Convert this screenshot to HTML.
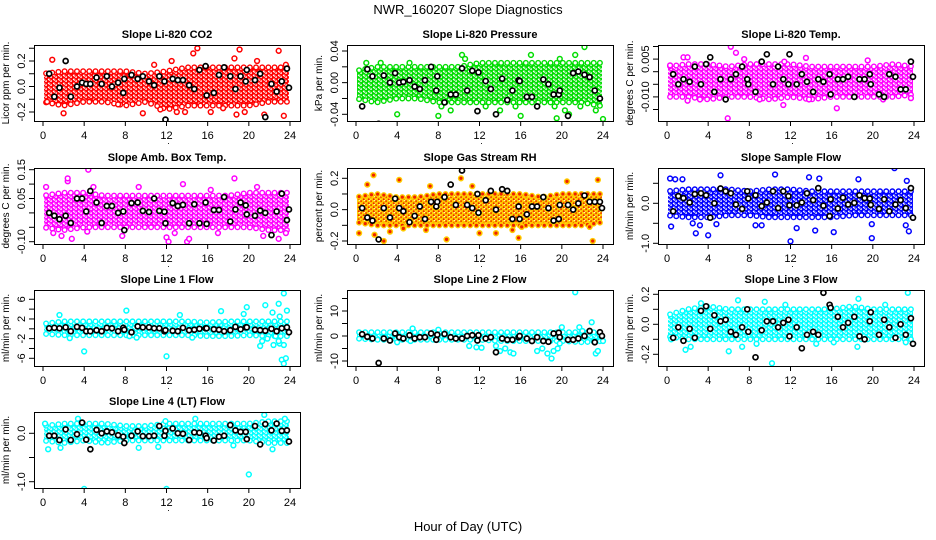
<!DOCTYPE html>
<html><head><meta charset="utf-8">
<style>
html,body{margin:0;padding:0;background:#fff;}
svg{display:block;font-family:"Liberation Sans",Arial,sans-serif;}
</style></head>
<body>
<svg id="chart" width="936" height="540" viewBox="0 0 936 540">
<defs id="defs"></defs>
<text x="468" y="14" text-anchor="middle" font-size="13">NWR_160207  Slope Diagnostics</text>
<text x="468" y="531" text-anchor="middle" font-size="13">Hour of Day (UTC)</text>
</svg>
<script>
// shared hours for black (averaged) points
const blackHours = [0.6,1.1,1.6,2.2,2.7,3.3,3.8,4.2,4.6,5.2,5.7,6.2,6.7,7.3,7.8,7.9,8.6,9.2,9.7,10.3,10.8,11.3,11.8,11.9,12.6,13.1,13.6,14.2,14.7,15.2,15.8,15.9,16.6,17.1,17.6,18.2,18.7,19.2,19.7,19.8,20.6,21.1,21.6,22.2,22.7,23.2,23.7,23.9];
const bandHours = [0,2,4,6,8,10,12,14,16,18,20,22,24];
const xTicks = [0,4,8,12,16,20,24];

// Panel 1 CO2
const co2Lo = [-0.12,-0.15,-0.12,-0.12,-0.15,-0.12,-0.18,-0.15,-0.15,-0.15,-0.15,-0.12,-0.12];
const co2Hi = [0.1,0.12,0.12,0.12,0.12,0.1,0.12,0.15,0.15,0.15,0.15,0.15,0.15];
const co2Out = [[0.9,0.21],[2,-0.21],[9.7,-0.21],[10.8,0.17],[11.4,-0.18],[12.5,0.2],[13,-0.2],[13.8,-0.2],[14.6,0.26],[15,0.3],[16.3,-0.2],[17.5,-0.17],[18.6,0.22],[18.8,-0.22],[19.1,0.29],[19.6,-0.2],[20.8,0.2],[21.5,-0.22],[22.9,0.28],[23.4,-0.23],[23.6,0.17],[7.3,-0.14],[0.4,-0.12]];
const co2Blk = [0.1,-0.08,-0.01,0.2,-0.08,0,0.03,0.02,0.02,0.07,0.02,0.08,0,0.03,-0.05,0.06,0.09,0.06,0.08,0.04,0.01,0.08,0.04,-0.26,0.06,0.05,0.05,0.01,-0.02,0.13,0.16,-0.07,-0.05,0.09,0.15,0.08,-0.02,0.08,0.04,0.13,0.05,0.1,-0.24,0.02,-0.04,0.04,0.14,-0.01];
// Panel 2 Pressure
const prsLo = [-0.02,-0.025,-0.02,-0.02,-0.025,-0.025,-0.025,-0.025,-0.025,-0.025,-0.025,-0.025,-0.03];
const prsHi = [0.015,0.02,0.02,0.02,0.02,0.02,0.025,0.025,0.025,0.025,0.025,0.025,0.025];
const prsOut = [[1,0.025],[2.4,0.025],[4,-0.04],[5.2,0.025],[8,-0.042],[8.3,-0.03],[9.2,-0.035],[10.3,0.035],[10.6,0.03],[12.6,-0.03],[14,-0.035],[15.5,-0.03],[16,-0.042],[17,0.035],[19.3,-0.03],[19.5,-0.045],[19.8,0.03],[20.3,-0.035],[20.7,-0.04],[21.3,0.035],[22.2,0.045],[23.3,-0.035],[24,-0.046],[21.8,-0.03]];
const prsBlk = [-0.03,0.017,0.008,-0.052,0.009,0,0.012,0,0.001,0.003,-0.005,-0.008,0.003,0.02,-0.01,0.008,-0.025,-0.015,-0.015,0.018,-0.01,0.015,-0.036,0.013,0.002,-0.008,-0.04,0.005,-0.022,-0.01,0.003,0.002,-0.018,-0.018,-0.03,0.004,-0.002,-0.015,-0.015,-0.01,-0.042,0.012,0.014,0.01,0.007,-0.01,-0.02,-0.055];
// Panel 3 Li-820 Temp
const tmpLo = [-0.010,-0.010,-0.011,-0.010,-0.010,-0.011,-0.010,-0.011,-0.010,-0.010,-0.010,-0.010,-0.009];
const tmpHi = [0.002,0.003,0.003,0.002,0.003,0.003,0.003,0.002,0.002,0.002,0.002,0.003,0.002];
const tmpOut = [[1.6,0.0057],[2,0.0057],[6.2,0.0099],[6.7,0.0075],[5.9,-0.0185],[11.3,-0.0132],[11.4,0.004],[13.8,-0.011],[16.5,-0.0145],[19.5,0.0045],[21,-0.011],[23.7,-0.0105],[3.2,-0.011],[2,-0.0115],[0.3,0.0025],[13.5,0.0055],[7.5,0.005],[9,-0.011]];
const tmpBlk = [-0.001,-0.005,-0.003,-0.004,0.002,-0.005,0.003,0.0057,-0.008,-0.003,-0.011,-0.003,-0.001,0.002,-0.003,-0.005,-0.008,0.004,0.0069,-0.005,0.002,-0.003,-0.005,0.0069,-0.005,-0.001,-0.004,-0.008,-0.003,-0.004,-0.001,-0.009,-0.003,-0.003,-0.002,-0.01,-0.003,-0.003,-0.001,-0.005,-0.009,-0.01,-0.001,-0.002,-0.007,-0.007,0.004,-0.002];
// Panel 4 Amb Box Temp
const ambLo = [-0.05,-0.06,-0.05,-0.05,-0.05,-0.05,-0.05,-0.05,-0.05,-0.05,-0.05,-0.06,-0.06];
const ambHi = [0.06,0.07,0.07,0.06,0.06,0.06,0.06,0.06,0.06,0.06,0.07,0.07,0.07];
const ambOut = [[0.3,0.09],[2.4,0.11],[2.4,0.12],[4.4,0.15],[4.9,0.09],[9.3,0.09],[13.6,0.1],[18.6,0.12],[20.8,0.09],[16.3,0.08],[1,-0.07],[1.8,-0.08],[2.8,-0.09],[7.7,-0.08],[12,-0.085],[12.2,-0.1],[14,-0.1],[14.2,-0.09],[12.8,-0.07],[17,-0.07],[21.4,-0.08],[22.9,-0.09],[23.6,-0.07],[4.3,-0.065]];
const ambBlk = [0,-0.01,-0.022,-0.01,-0.035,0.05,0.05,0.005,0.076,0.036,-0.035,0.024,0.024,0,0.005,-0.06,0.034,0.036,0.007,0.003,0.05,0.007,0.004,-0.036,0.034,0.024,0.028,-0.036,0.03,-0.036,0.036,-0.038,0.01,0.01,0.055,-0.03,0.012,0.036,0.026,-0.005,-0.01,0.008,0,-0.077,0.005,0.067,-0.025,0.012];
// Panel 5 Gas Stream RH
const rhLo = [-0.08,-0.1,-0.1,-0.1,-0.1,-0.1,-0.1,-0.1,-0.1,-0.1,-0.1,-0.1,-0.08];
const rhHi = [0.08,0.1,0.08,0.08,0.1,0.1,0.1,0.1,0.1,0.08,0.1,0.1,0.1];
const rhOut = [[0.3,-0.15],[1.7,0.22],[1.8,-0.16],[2.7,-0.2],[4.2,0.19],[3.3,-0.14],[4.6,-0.12],[6.8,-0.13],[8.8,-0.19],[10.2,0.2],[12,-0.15],[13.6,-0.15],[15.8,-0.18],[16.1,-0.11],[20.5,0.18],[22.7,-0.11],[23,-0.2],[23.5,0.19],[1.1,0.16],[7.2,0.15],[11.3,0.15],[15.2,-0.13]];
const rhBlk = [0.01,-0.05,-0.07,-0.19,0.01,-0.05,0.07,0.01,-0.01,-0.08,-0.04,0.02,-0.06,0.05,0.02,0.05,0.08,0.16,0.03,0.25,0.03,0.01,0.1,-0.02,0.06,0.12,0,0.13,0.12,-0.06,0.02,-0.06,-0.03,0.02,0.02,0.08,0.01,-0.07,-0.06,0.03,0.03,0,0.04,0.09,0.05,0.05,0.05,0.01];
// Panel 6 Sample Flow
const smpLo = [-0.3,-0.35,-0.35,-0.3,-0.3,-0.35,-0.35,-0.35,-0.35,-0.3,-0.3,-0.3,-0.3];
const smpHi = [0.3,0.35,0.35,0.35,0.3,0.35,0.35,0.3,0.3,0.3,0.3,0.3,0.3];
const smpOut = [[0.3,0.62],[0.4,-0.58],[1.5,0.6],[2.5,-0.5],[2.8,-0.75],[3.2,-0.55],[4,-0.8],[5.2,0.7],[4.8,-0.52],[8.6,-0.55],[9.2,-0.55],[10.5,0.72],[12,-0.95],[12.6,-0.62],[13.8,0.65],[14.4,-0.68],[14.8,0.62],[16.2,-0.72],[18.6,0.6],[19.9,-0.87],[19.9,-0.52],[22.1,0.88],[23.3,0.56],[23.5,-0.7],[23.2,-0.55],[0.8,0.6]];
const smpBlk = [-0.2,0.18,0.13,0.02,0.23,0.25,0.2,-0.36,0,0.37,0.3,0.25,-0.03,-0.14,0.3,0.12,0.2,-0.07,0.02,0.3,-0.12,0.3,0.18,-0.05,-0.05,0.02,0.25,0.08,0.38,-0.06,-0.32,0.1,-0.13,0.14,-0.03,0.01,0.2,0.13,0.12,-0.04,-0.14,0.1,-0.2,-0.03,0.08,-0.12,0.38,-0.36];
// Panel 7 Line 1 Flow
const l1Lo = [-1,-1.3,-1.3,-1.3,-1.3,-1.3,-1.3,-1.3,-1.5,-1.5,-1.3,-1.5,-1.5];
const l1Hi = [1,1.5,1.5,1.5,1.5,1.5,1.5,1.5,1.3,1.5,1.5,1.5,1.5];
const l1Out = [[1.6,2.8],[4,-4.6],[8.1,3.7],[2.6,-1.9],[12,-5.6],[13.3,2.8],[17.3,3.6],[19.8,4.4],[19.5,3],[21.1,-3.5],[21.6,4.8],[21.8,-2],[22.4,-3.3],[22.3,3.3],[22.9,5.1],[23,-3],[23.2,-6.3],[23.4,-7.1],[23.4,7.2],[23.6,-6],[23.7,3.7],[21.3,-2.5],[22.6,-1.5],[23,2.5],[23.4,-3.3],[22.9,-2.5],[14.5,-1.8],[9.1,-1.8],[8.4,-1.5]];
const l1Blk = [0.1,0.2,0.1,0.3,-0.5,0.4,0.2,-0.5,-0.5,-0.3,-0.5,0.2,0.1,-0.5,0.2,-0.2,-0.7,0.5,0.3,0.3,0.1,0.1,-0.5,-0.3,-0.4,-0.5,0.2,-0.3,-0.2,0,0.1,0.1,-0.1,-0.2,-0.5,-0.3,0.4,-0.1,0.3,0.3,-0.2,-0.3,-0.4,0,-0.5,0.1,0.3,-0.7];
// Panel 8 Line 2 Flow
const l2Lo = [-1,-1.5,-1.5,-1.5,-1.5,-1.5,-1.5,-2,-2,-2,-2,-2.5,-2];
const l2Hi = [1.5,1.5,1.5,1.5,1.5,1.5,1.5,1.5,1.5,1.5,1.5,1.5,1.5];
const l2Out = [[5.5,3],[5.3,-2],[11,-4],[11.7,-4.5],[12.2,-4.7],[13.6,-4],[14,-6],[14.5,-5],[15,-6.5],[15.3,-7],[17.6,-6],[18.1,-5],[18.6,-7],[19,-9],[19.2,-6],[19.6,-5],[19.8,-3],[20,3.5],[21.3,17.5],[21.7,3.5],[22.9,5.5],[23.3,-7],[23.5,-6],[24,-2],[8,2.5],[4,-2.5],[22,2]];
const l2Blk = [0.7,-0.3,-1,-10.8,-1,-1.8,1,-0.5,-1,0.3,-1,-0.5,-0.5,1,-1.5,0.5,0.8,-0.5,-1,-1,0,0.3,-1.8,0.3,-1,-0.5,-6.5,-1,-1.5,-1.5,-0.5,0,-1,-2,-0.5,-2,-2.3,1,1.3,-0.5,-1.5,-1.5,-1,0,2,-2.5,1.5,0];
// Panel 9 Line 3 Flow
const l3Lo = [-0.08,-0.1,-0.1,-0.1,-0.1,-0.1,-0.1,-0.1,-0.1,-0.1,-0.1,-0.1,-0.1];
const l3Hi = [0.06,0.1,0.12,0.1,0.1,0.1,0.1,0.1,0.1,0.12,0.1,0.1,0.1];
const l3Out = [[1.8,-0.17],[2.3,-0.15],[3.3,0.14],[6,-0.18],[6.9,0.16],[7.3,-0.15],[8.7,-0.13],[10.2,-0.26],[11.5,0.13],[14.5,-0.13],[16.2,-0.12],[18.5,-0.15],[18.6,0.17],[21.2,0.13],[23.4,0.21],[23.2,-0.12],[0.4,-0.1],[9.5,0.15]];
const l3Blk = [-0.09,-0.02,-0.11,-0.03,-0.09,0.09,0.12,-0.03,0.06,0.02,0.03,-0.05,-0.07,-0.02,0.1,-0.05,-0.22,-0.04,0.02,0.02,-0.02,0.01,0.03,-0.08,-0.02,-0.16,-0.07,-0.05,-0.07,0.21,0.13,0.11,0.05,-0.02,0.01,0.05,-0.08,-0.1,0.02,0.08,-0.07,0.03,-0.02,-0.09,0,-0.07,0.04,-0.13];
// Panel 10 Line 4 Flow
const l4Lo = [-0.15,-0.2,-0.15,-0.2,-0.15,-0.15,-0.15,-0.15,-0.15,-0.15,-0.15,-0.2,-0.2];
const l4Hi = [0.15,0.2,0.2,0.2,0.15,0.15,0.2,0.2,0.2,0.2,0.2,0.25,0.25];
const l4Out = [[0.5,-0.33],[1.7,-0.3],[4,-1.15],[3.4,0.3],[9.3,-0.3],[11.2,-0.28],[12,-1.15],[14.8,0.3],[20,-0.85],[21.5,0.38],[22.3,-0.33],[23.5,0.3],[18.5,-0.25],[0.2,0.2],[11.9,0.25]];
const l4Blk = [-0.05,-0.05,-0.14,0.08,-0.14,-0.02,0.22,-0.13,-0.33,0.07,0,0.04,0.02,-0.04,-0.07,-0.2,-0.05,0.04,-0.06,-0.06,-0.05,0.15,-0.05,0.05,0.1,0,-0.01,-0.14,0.02,0.01,-0.05,-0.1,-0.15,-0.07,-0.05,0.17,0.06,0.03,0.03,-0.12,0.15,-0.23,0.19,0.06,0.2,0.05,0.06,-0.17];

const NS = "http://www.w3.org/2000/svg";
const svg = document.getElementById('chart');
const defs = document.getElementById('defs');
function mk(tag, attrs, parent){
  const e = document.createElementNS(NS, tag);
  for (const k in attrs) e.setAttribute(k, attrs[k]);
  (parent||svg).appendChild(e);
  return e;
}
const colX = [34, 347, 658];
const rowY = [45, 168, 290, 412];
const W = 266, H = 76;

const panels = [
 {name:'li820-co2', title:'Slope Li-820 CO2', ylab:'Licor ppm per min.', col:0,row:0, v1:0.2,p1:61, v2:-0.2,p2:112, ticks:[-0.2,-0.1,0,0.1,0.2,0.3], labels:[[-0.2,'-0.2'],[0,'0.0'],[0.2,'0.2']], color:'#ff0000', lo:co2Lo, hi:co2Hi, out:co2Out, blk:co2Blk},
 {name:'li820-pressure', title:'Slope Li-820 Pressure', ylab:'kPa per min.', col:1,row:0, v1:0.04,p1:51, v2:-0.04,p2:114.3, ticks:[-0.04,-0.02,0,0.02,0.04], labels:[[-0.04,'-0.04'],[0,'0.00'],[0.04,'0.04']], color:'#00dd00', lo:prsLo, hi:prsHi, out:prsOut, blk:prsBlk},
 {name:'li820-temp', title:'Slope Li-820 Temp.', ylab:'degrees C per min.', col:2,row:0, v1:0,p1:71.7, v2:-0.01,p2:96.9, ticks:[0.01,0.005,0,-0.005,-0.01,-0.015], labels:[[0.005,'0.005'],[-0.01,'-0.010']], color:'#ff00ff', lo:tmpLo, hi:tmpHi, out:tmpOut, blk:tmpBlk},
 {name:'amb-box-temp', title:'Slope Amb. Box Temp.', ylab:'degrees C per min.', col:0,row:1, v1:0.15,p1:169.7, v2:-0.1,p2:241.7, ticks:[0.15,0.1,0.05,0,-0.05,-0.1], labels:[[-0.1,'-0.10'],[0.05,'0.05'],[0.15,'0.15']], color:'#ff00ff', lo:ambLo, hi:ambHi, out:ambOut, blk:ambBlk},
 {name:'gas-stream-rh', title:'Slope Gas Stream RH', ylab:'percent per min.', col:1,row:1, v1:0.2,p1:178.3, v2:-0.2,p2:241, ticks:[-0.2,-0.1,0,0.1,0.2], labels:[[-0.2,'-0.2'],[0,'0.0'],[0.2,'0.2']], color:'#ffcc00', dot:'#ee2200', lo:rhLo, hi:rhHi, out:rhOut, blk:rhBlk},
 {name:'sample-flow', title:'Slope Sample Flow', ylab:'ml/min per min.', col:2,row:1, v1:0,p1:203.3, v2:-1,p2:243.3, ticks:[0.5,0,-0.5,-1], labels:[[-1,'-1.0'],[0,'0.0']], color:'#0000ff', lo:smpLo, hi:smpHi, out:smpOut, blk:smpBlk},
 {name:'line1-flow', title:'Slope Line 1 Flow', ylab:'ml/min per min.', col:0,row:2, v1:6,p1:299.3, v2:-6,p2:358.3, ticks:[6,4,2,0,-2,-4,-6,-8], labels:[[-6,'-6'],[-2,'-2'],[2,'2'],[6,'6']], color:'#00ffff', lo:l1Lo, hi:l1Hi, out:l1Out, blk:l1Blk},
 {name:'line2-flow', title:'Slope Line 2 Flow', ylab:'ml/min per min.', col:1,row:2, v1:10,p1:311, v2:-10,p2:361, ticks:[15,10,5,0,-5,-10], labels:[[-10,'-10'],[0,'0'],[10,'10']], color:'#00ffff', lo:l2Lo, hi:l2Hi, out:l2Out, blk:l2Blk},
 {name:'line3-flow', title:'Slope Line 3 Flow', ylab:'ml/min per min.', col:2,row:2, v1:0.2,p1:294.3, v2:-0.2,p2:354.3, ticks:[0.2,0.1,0,-0.1,-0.2,-0.3], labels:[[-0.2,'-0.2'],[0,'0.0'],[0.2,'0.2']], color:'#00ffff', lo:l3Lo, hi:l3Hi, out:l3Out, blk:l3Blk},
 {name:'line4-flow', title:'Slope Line 4 (LT) Flow', ylab:'ml/min per min.', col:0,row:3, v1:0,p1:433.3, v2:-1,p2:481.7, ticks:[0,-0.5,-1], labels:[[-1,'-1.0'],[0,'0.0']], color:'#00ffff', lo:l4Lo, hi:l4Hi, out:l4Out, blk:l4Blk}
];

function interp(arr, h){
  const i = Math.min(bandHours.length-2, Math.max(0, Math.floor(h/2)));
  const t = (h - bandHours[i])/2;
  return arr[i] + (arr[i+1]-arr[i])*t;
}

panels.forEach(p => {
  const L = colX[p.col], T = rowY[p.row], R = L+W, B = T+H;
  const xs = h => L + 9 + h*(W-19)/24;
  const ys = v => p.p1 + (v - p.v1)*(p.p2-p.p1)/(p.v2-p.v1);
  const ringFill = p.dot || 'none';

  const patId = 'pat-' + p.name;
  const pat = mk('pattern', {id:patId, patternUnits:'userSpaceOnUse', width:5, height:4}, defs);
  mk('rect', {x:0, y:0, width:5, height:4, fill:'#fff'}, pat);
  mk('circle', {cx:1.2, cy:1.2, r:1.8, fill:ringFill, stroke:p.color, 'stroke-width':1.7}, pat);
  mk('circle', {cx:3.7, cy:3.2, r:1.8, fill:ringFill, stroke:p.color, 'stroke-width':1.7}, pat);

  const g = mk('g', {});
  
  
  const clipId = 'clip-' + p.name;
  const cp = mk('clipPath', {id: clipId}, g);
  mk('rect', {x:L, y:T, width:W, height:H}, cp);

  const title = mk('text', {x:L+W/2, y:T-7, 'text-anchor':'middle', 'font-size':11, 'font-weight':'bold'}, g);
  title.textContent = p.title;
  
  

  const yl = mk('text', {transform:`translate(${L-25},${T+H/2}) rotate(-90)`, 'text-anchor':'middle', 'font-size':10}, g);
  yl.textContent = p.ylab;
  
  

  const plot = mk('g', {'clip-path':`url(#${clipId})`}, g);
  
  

  let pts = [];
  bandHours.forEach((h,i)=>pts.push(xs(Math.min(23.9,Math.max(0.1,h)))+','+ys(p.hi[i])));
  for (let i=bandHours.length-1;i>=0;i--) pts.push(xs(Math.min(23.9,Math.max(0.1,bandHours[i])))+','+ys(p.lo[i]));
  const band = mk('polygon', {points: pts.join(' '), fill:`url(#${patId})`}, plot);
  
  

  for (let k=0; k<=39; k++){
    const h = 0.3 + k*0.6;
    [interp(p.hi,h), interp(p.lo,h)].forEach(v=>{
      const c = mk('circle', {cx:xs(h), cy:ys(v), r:2.3, fill:ringFill==='none'?'#fff':ringFill, stroke:p.color, 'stroke-width':1.4}, plot);
      
      
    });
  }
  p.out.forEach(o=>{
    const c = mk('circle', {cx:xs(o[0]), cy:ys(o[1]), r:2.4, fill:ringFill==='none'?'#fff':ringFill, stroke:p.color, 'stroke-width':1.5}, plot);
    
    
  });
  const n = Math.min(blackHours.length, p.blk.length);
  for (let i=0;i<n;i++){
    const c = mk('circle', {cx:xs(blackHours[i]), cy:ys(p.blk[i]), r:2.5, fill:'#fff', stroke:'#000', 'stroke-width':1.7}, plot);
    
    
  }

  const box = mk('rect', {x:L+0.5, y:T+0.5, width:W, height:H, fill:'none', stroke:'#000', 'stroke-width':1}, g);
  
  

  xTicks.forEach(t=>{
    mk('line', {x1:xs(t), x2:xs(t), y1:B, y2:B+5, stroke:'#000'}, g);
    const tx = mk('text', {x:xs(t), y:B+18, 'text-anchor':'middle', 'font-size':11}, g);
    tx.textContent = t;
    
    
  });
  const dot = mk('text', {x:xs(12)+2, y:B+23, 'text-anchor':'middle', 'font-size':9}, g);
  dot.textContent = '.';
  p.ticks.forEach(t=>{
    const y = ys(t);
    if (y < T-1 || y > B+1) return;
    mk('line', {x1:L-5, x2:L, y1:y, y2:y, stroke:'#000'}, g);
  });
  p.labels.forEach(l=>{
    const ty = mk('text', {transform:`translate(${L-9},${ys(l[0])}) rotate(-90)`, 'text-anchor':'middle', 'font-size':11}, g);
    ty.textContent = l[1];
    
    
  });
});
</script>
</body></html>
